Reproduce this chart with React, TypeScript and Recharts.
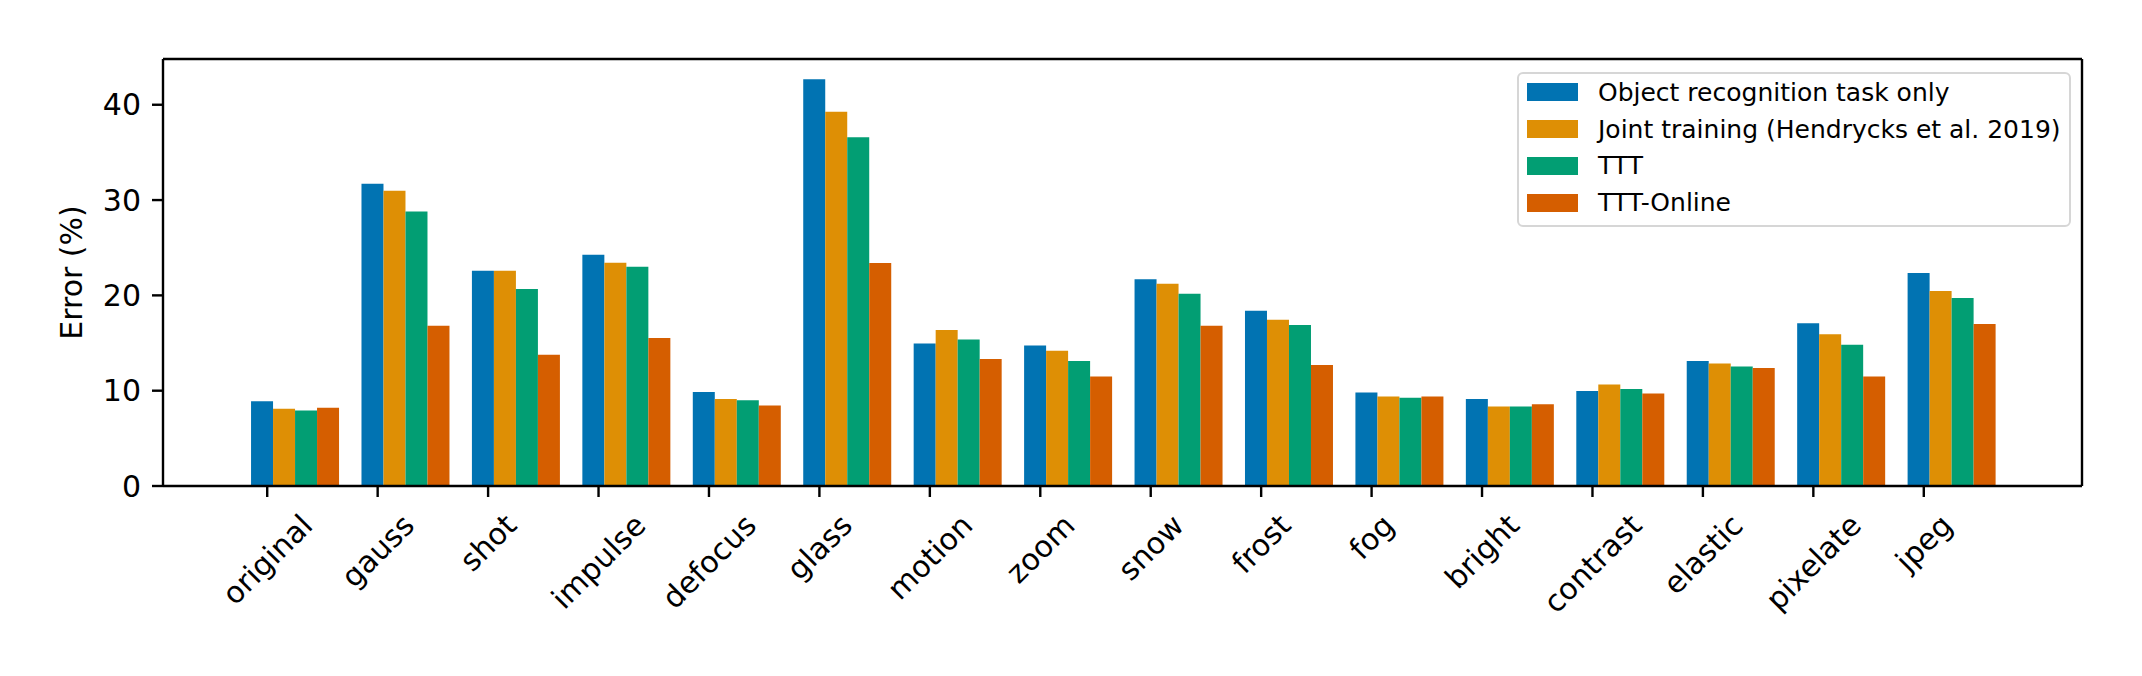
import React from 'react';
import { BarChart, Bar, XAxis, YAxis, Legend } from 'recharts';

// corruption types on the x axis
const categories = [
  'original', 'gauss', 'shot', 'impulse', 'defocus', 'glass', 'motion', 'zoom',
  'snow', 'frost', 'fog', 'bright', 'contrast', 'elastic', 'pixelate', 'jpeg',
];

// error (%) per method
const objectOnly = [8.89, 31.71, 22.59, 24.27, 9.87, 42.68, 14.94, 14.73, 21.68, 18.4, 9.8, 9.14, 9.98, 13.12, 17.07, 22.35];
const jointTraining = [8.1, 30.97, 22.59, 23.43, 9.14, 39.26, 16.37, 14.2, 21.23, 17.45, 9.38, 8.33, 10.64, 12.84, 15.91, 20.46];
const ttt = [7.92, 28.8, 20.67, 23.0, 9.0, 36.6, 15.36, 13.12, 20.18, 16.9, 9.25, 8.33, 10.19, 12.53, 14.83, 19.73];
const tttOnline = [8.2, 16.82, 13.78, 15.53, 8.44, 23.4, 13.33, 11.48, 16.82, 12.7, 9.38, 8.57, 9.7, 12.39, 11.48, 17.0];

const seriesKeys = ['objectOnly', 'jointTraining', 'ttt', 'tttOnline'];
const seriesNames = [
  'Object recognition task only',
  'Joint training (Hendrycks et al. 2019)',
  'TTT',
  'TTT-Online',
];
const seriesColors = ['#0173b2', '#de8f05', '#029e73', '#d55e00'];

const yTicks = [0, 10, 20, 30, 40];
const yMax = 44.8;

const chartData = categories.map((name, i) => ({
  name,
  objectOnly: objectOnly[i],
  jointTraining: jointTraining[i],
  ttt: ttt[i],
  tttOnline: tttOnline[i],
}));

const FONT = '"DejaVu Sans", sans-serif';
const AXIS_W = 2.4;
// matplotlib puts the tick left of the group centre
const TICK_SHIFT = -28;

let measureCtx: CanvasRenderingContext2D | null = null;
const textWidth = (s: string) => {
  if (!measureCtx) measureCtx = document.createElement('canvas').getContext('2d');
  if (!measureCtx) return s.length * 17;
  measureCtx.font = '30px "DejaVu Sans"';
  return measureCtx.measureText(s).width;
};

const XTick = (props: any) => {
  const { x, y, payload } = props;
  const cx = x + TICK_SHIFT;
  const w = textWidth(String(payload.value));
  const h = 35;
  const cy = y + 11 + 10.5 + ((w + h) * Math.SQRT1_2) / 2;
  return (
    <g>
      <line x1={cx} x2={cx} y1={y} y2={y + 11} stroke="#000" strokeWidth={AXIS_W} />
      <text
        x={cx}
        y={cy}
        textAnchor="middle"
        dominantBaseline="central"
        transform={`rotate(-45 ${cx} ${cy})`}
        fontSize={30}
        fontFamily={FONT}
        fill="#000"
      >
        {payload.value}
      </text>
    </g>
  );
};

const YLabel = (props: any) => {
  const vb = props.viewBox || { y: 0, height: 0 };
  const cy = vb.y + vb.height / 2;
  return (
    <text
      x={71}
      y={cy}
      textAnchor="middle"
      dominantBaseline="central"
      transform={`rotate(-90 71 ${cy})`}
      fontSize={30}
      fontFamily={FONT}
      fill="#000"
    >
      Error (%)
    </text>
  );
};

const LegendBox = () => (
  <div
    style={{
      boxSizing: 'border-box',
      width: 554,
      border: '2px solid #d6d6d6',
      borderRadius: 6,
      background: 'rgba(255,255,255,0.8)',
      padding: '0 0 4px 8px',
      fontFamily: FONT,
      fontSize: 25,
      color: '#000',
    }}
  >
    {seriesNames.map((n, i) => (
      <div key={n} style={{ display: 'flex', alignItems: 'center', height: 36.8 }}>
        <span style={{ width: 51, height: 18, background: seriesColors[i], marginRight: 20 }} />
        <span style={{ whiteSpace: 'nowrap' }}>{n}</span>
      </div>
    ))}
  </div>
);

export default function App() {
  return (
    <div style={{ position: 'absolute', left: 0, top: 0, background: '#fff' }}>
      <BarChart
        width={2142}
        height={676}
        data={chartData}
        margin={{ top: 58, right: 59, left: 83, bottom: 0 }}
        barCategoryGap="10%"
        barGap={0}
      >
        <XAxis
          dataKey="name"
          height={190}
          padding={{ left: 77, right: 75 }}
          interval={0}
          tick={<XTick />}
          tickLine={false}
          tickSize={0}
          tickMargin={0}
          axisLine={{ stroke: '#000', strokeWidth: AXIS_W }}
        />
        <XAxis
          xAxisId="top"
          orientation="top"
          dataKey="name"
          height={1}
          tick={false}
          tickLine={false}
          axisLine={{ stroke: '#000', strokeWidth: AXIS_W }}
        />
        <YAxis
          type="number"
          domain={[0, yMax]}
          ticks={yTicks}
          allowDataOverflow
          width={80}
          tickSize={11}
          tickMargin={11}
          tick={{ fontSize: 30, fontFamily: FONT, fill: '#000' }}
          tickLine={{ stroke: '#000', strokeWidth: AXIS_W }}
          axisLine={{ stroke: '#000', strokeWidth: AXIS_W }}
          label={<YLabel />}
        />
        <YAxis
          yAxisId="right"
          orientation="right"
          type="number"
          domain={[0, yMax]}
          width={1}
          tick={false}
          tickLine={false}
          axisLine={{ stroke: '#000', strokeWidth: AXIS_W }}
        />
        <Legend
          layout="horizontal"
          verticalAlign="middle"
          align="center"
          content={<LegendBox />}
          wrapperStyle={{ top: 72, left: 1517, width: 554 }}
        />
        {seriesKeys.map((k, i) => (
          <Bar
            key={k}
            dataKey={k}
            name={seriesNames[i]}
            fill={seriesColors[i]}
            isAnimationActive={false}
          />
        ))}
      </BarChart>
    </div>
  );
}
